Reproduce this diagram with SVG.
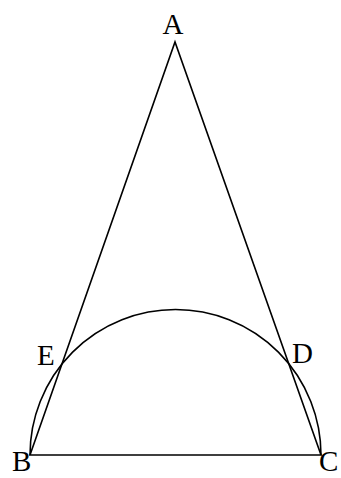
<svg xmlns="http://www.w3.org/2000/svg" width="341" height="478" viewBox="0 0 341 478">
<style>
.ln{fill:none;stroke:#000;stroke-width:1.6;stroke-linejoin:miter}
.lb{font-family:"Liberation Serif","Times New Roman",serif;font-size:29px;fill:#000}
</style>
<rect width="341" height="478" fill="#fff"/>
<g id="connectors">
<path class="ln" d="M30,455 L175,42 L321,455 Z"/>
<path class="ln" d="M30,455 A145.5,145.5 0 0 1 321,455"/>
</g>
<g id="A"><text class="lb" x="173" y="34" text-anchor="middle">A</text></g>
<g id="E"><text class="lb" x="37" y="365">E</text></g>
<g id="D"><text class="lb" x="292" y="363">D</text></g>
<g id="B"><text class="lb" x="12" y="471">B</text></g>
<g id="C"><text class="lb" x="319" y="471">C</text></g>
</svg>
